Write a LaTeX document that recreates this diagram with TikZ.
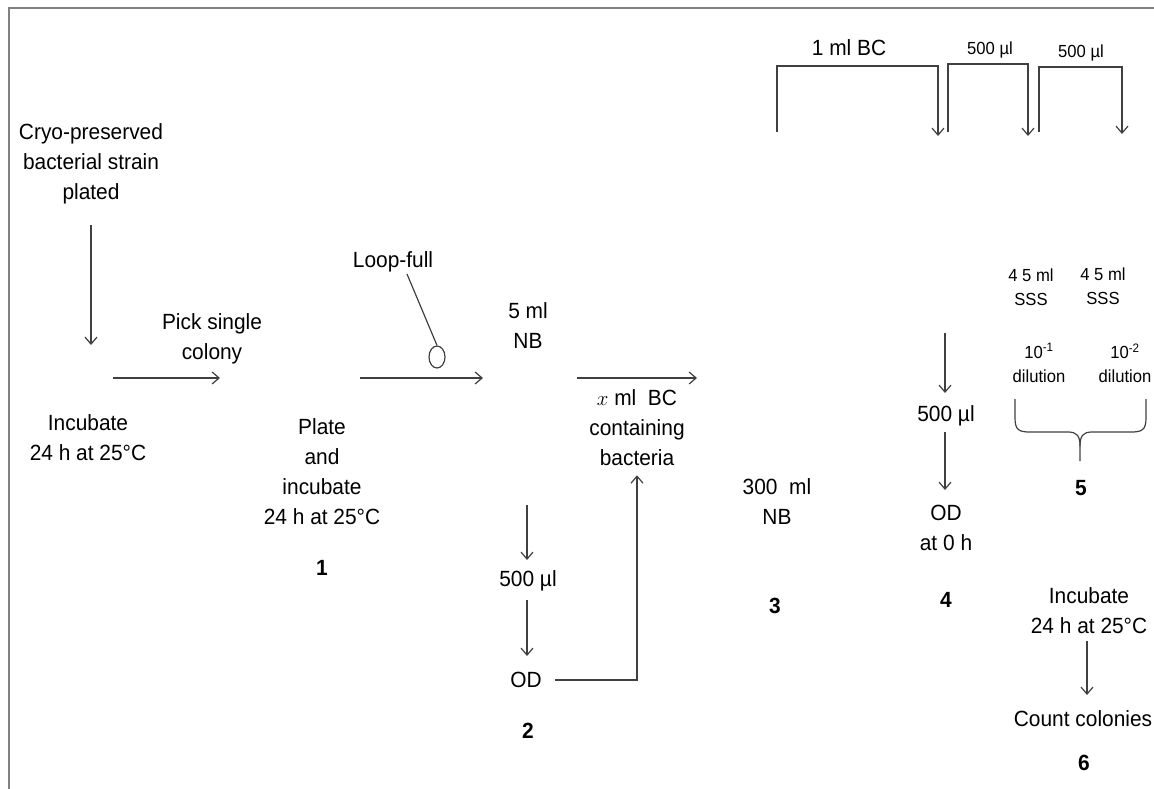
\documentclass[tikz,border=0pt]{standalone}
\usepackage{fontspec}
\setmainfont{Liberation Sans}[FakeStretch=0.95]
\usetikzlibrary{arrows.meta, shapes.geometric}
\tikzset{
  txt/.style={inner sep=0pt, align=center, font=\fontsize{22}{30}\selectfont},
  sml/.style={inner sep=0pt, align=center, font=\fontsize{17.5}{24}\selectfont},
  stepno/.style={inner sep=0pt, font=\fontsize{22}{30}\selectfont\bfseries},
  arr/.style={-{Straight Barb[length=7pt,width=12pt]}, line width=1.2pt, draw=black!75},
  ln/.style={line width=1.2pt, draw=black!75}
}
\begin{document}
\begin{tikzpicture}[x=1pt,y=-1pt]
  \useasboundingbox (0,0) rectangle (1154,789);
  % frame
  \draw[line width=2pt, draw=black!50] (9,789) -- (9,8) -- (1154,8);

  % start
  \node[txt] (cryo) at (91,164) {Cryo-preserved\\bacterial strain\\plated};
  \node[txt] (inc0) at (88,438) {Incubate\\24 h at 25°C};
  \coordinate (c0a) at (91,225);
  \coordinate (c0b) at (91,345);
  \draw[arr] (c0a) -- (c0b);

  % step 1
  \coordinate (p0) at (113,378);
  \coordinate (p1) at (220,378);
  \draw[arr] (p0) -- (p1);
  \node[txt] (pick) at (212,339) {Pick single\\colony};
  \node[txt] (plate) at (322,472) {Plate\\and\\incubate\\24 h at 25°C};
  \node[stepno] (one) at (322,568) {1};

  % loop
  \coordinate (l0) at (360,378);
  \coordinate (l1) at (483,378);
  \draw[arr] (l0) -- (l1);
  \node[txt] (loop) at (393,262) {Loop-full};
  \node[ln, draw, ellipse, inner sep=0pt, minimum width=16pt, minimum height=22pt] (tip) at (437,357) {};
  \draw[ln] (407,274) -- (tip.north);

  % step 2
  \node[txt] (nb5) at (528,326) {5 ml\\NB};
  \node[txt] (ul2) at (528,581) {500 µl};
  \node[txt] (od2) at (526,680) {OD};
  \node[stepno] (two) at (528,731) {2};
  \coordinate (s2a) at (527,505);
  \coordinate (s2b) at (527,560);
  \coordinate (s2c) at (527,600);
  \coordinate (s2d) at (527,656);
  \draw[arr] (s2a) -- (s2b);
  \draw[arr] (s2c) -- (s2d);

  % transfer to 3
  \coordinate (x0) at (577,378);
  \coordinate (x1) at (697,378);
  \draw[arr] (x0) -- (x1);
  \node[txt] (xbc) at (637,428) {$x$ ml\ \ BC\\containing\\bacteria};
  \draw[arr] ([xshift=13pt]od2.east) -| ([yshift=-9pt]xbc.south);

  % step 3
  \node[txt] (nb300) at (777,502) {300\ \ ml\\NB};
  \node[stepno] (three) at (775,606) {3};

  % serial transfers
  \coordinate (b0) at (777,132);
  \coordinate (b1) at (938,136);
  \coordinate (b2) at (948,132);
  \coordinate (b3) at (1028,136);
  \coordinate (b4) at (1039,132);
  \coordinate (b5) at (1122,134);
  \draw[arr] (b0) |- (860,66) -| (b1);
  \draw[arr] (b2) |- (990,64) -| (b3);
  \draw[arr] (b4) |- (1080,67) -| (b5);
  \node[txt] (bc1) at (849,48) {1 ml BC};
  \node[sml] (ula) at (990,50) {500 µl};
  \node[sml] (ulb) at (1081,53) {500 µl};

  % step 4
  \node[txt] (ul4) at (946,416) {500 µl};
  \node[txt] (od4) at (946,528) {OD\\at 0 h};
  \node[stepno] (four) at (946,600) {4};
  \coordinate (s4a) at (945,333);
  \coordinate (s4b) at (945,393);
  \coordinate (s4c) at (945,432);
  \coordinate (s4d) at (945,490);
  \draw[arr] (s4a) -- (s4b);
  \draw[arr] (s4c) -- (s4d);

  % step 5
  \node[sml] (sssa) at (1031,287) {4 5 ml\\SSS};
  \node[sml] (sssb) at (1103,286) {4 5 ml\\SSS};
  \node[sml] (dila) at (1039,363) {10\textsuperscript{-1}\\dilution};
  \node[sml] (dilb) at (1125,363) {10\textsuperscript{-2}\\dilution};
  \draw[ln] (1015,399) -- (1015,418) .. controls (1015,430) and (1019,432) .. (1030,432)
    -- (1068,432) .. controls (1077,432) and (1080,436) .. (1080,446) -- (1080,461);
  \draw[ln] (1146,399) -- (1146,418) .. controls (1146,430) and (1142,432) .. (1131,432)
    -- (1092,432) .. controls (1083,432) and (1080,436) .. (1080,446);
  \node[stepno] (five) at (1081,488) {5};

  % step 6
  \node[txt] (inc6) at (1089,611) {Incubate\\24 h at 25°C};
  \node[txt] (count) at (1083,719) {Count colonies};
  \node[stepno] (six) at (1084,763) {6};
  \coordinate (s6a) at (1087,641);
  \coordinate (s6b) at (1087,695);
  \draw[arr] (s6a) -- (s6b);
\end{tikzpicture}
\end{document}
